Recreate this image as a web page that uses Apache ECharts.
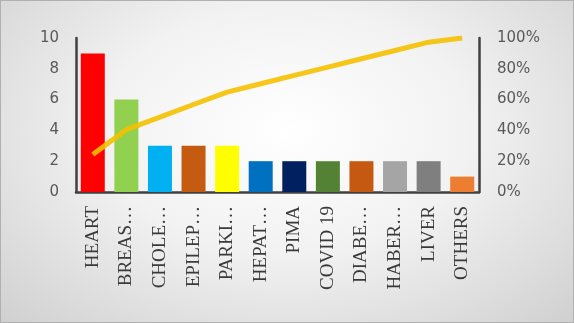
<!DOCTYPE html>
<html>
<head>
<meta charset="utf-8">
<script src="https://cdn.jsdelivr.net/npm/echarts@6/dist/echarts.min.js"></script>
<style>
  html, body { margin: 0; padding: 0; }
  #chart {
    width: 574px;
    height: 323px;
    box-sizing: border-box;
    border: 1px solid #b0b0b0;
    background: radial-gradient(ellipse at 50% 40%, #ffffff 0%, #f2f2f2 45%, #d0d0d0 100%);
  }
</style>
</head>
<body>
<div id="chart"></div>
<script>
const categories = ['HEART', 'BREAS…', 'CHOLE…', 'EPILEP…', 'PARKI…', 'HEPAT…', 'PIMA', 'COVID 19', 'DIABE…', 'HABER…', 'LIVER', 'OTHERS']
const counts = [9, 6, 3, 3, 3, 2, 2, 2, 2, 2, 2, 1]
const cumulative = [0.243, 0.405, 0.486, 0.568, 0.649, 0.703, 0.757, 0.811, 0.865, 0.919, 0.973, 1.0]
const barColors = ['#ff0000', '#92d050', '#00b0f0', '#c55a11', '#ffff00', '#0070c0', '#002060', '#548235', '#c65911', '#a5a5a5', '#7f7f7f', '#ed7d31']
const leftTicks = [0, 10, 2]
const rightTicks = [0, 1, 0.2]

const chart = echarts.init(document.getElementById('chart'))

const axisLine = { show: true, lineStyle: { color: '#404040', width: 2.5 } }

chart.setOption({
  animation: false,
  grid: { left: 75, right: 94, top: 37, bottom: 130 },
  xAxis: {
    type: 'category',
    data: categories,
    axisLine: axisLine,
    axisTick: { show: false },
    axisLabel: {
      rotate: 90,
      interval: 0,
      margin: 14,
      color: '#3a3a3a',
      fontFamily: 'Liberation Serif',
      fontSize: 19
    }
  },
  yAxis: [
    {
      type: 'value',
      min: leftTicks[0],
      max: leftTicks[1],
      interval: leftTicks[2],
      axisLine: axisLine,
      axisTick: { show: false },
      splitLine: { show: false },
      axisLabel: { color: '#595959', fontFamily: 'DejaVu Sans', fontSize: 15, margin: 17 }
    },
    {
      type: 'value',
      min: rightTicks[0],
      max: rightTicks[1],
      interval: rightTicks[2],
      position: 'right',
      axisLine: axisLine,
      axisTick: { show: false },
      splitLine: { show: false },
      axisLabel: {
        color: '#595959',
        fontFamily: 'DejaVu Sans',
        fontSize: 15,
        margin: 18,
        formatter: v => Math.round(v * 100) + '%'
      }
    }
  ],
  series: [
    {
      type: 'bar',
      data: counts.map((v, i) => ({ value: v, itemStyle: { color: barColors[i] } })),
      barWidth: 24
    },
    {
      type: 'line',
      yAxisIndex: 1,
      data: cumulative,
      showSymbol: false,
      lineStyle: { color: '#f5c000', width: 5, opacity: 0.9 }
    }
  ]
})
</script>
</body>
</html>
